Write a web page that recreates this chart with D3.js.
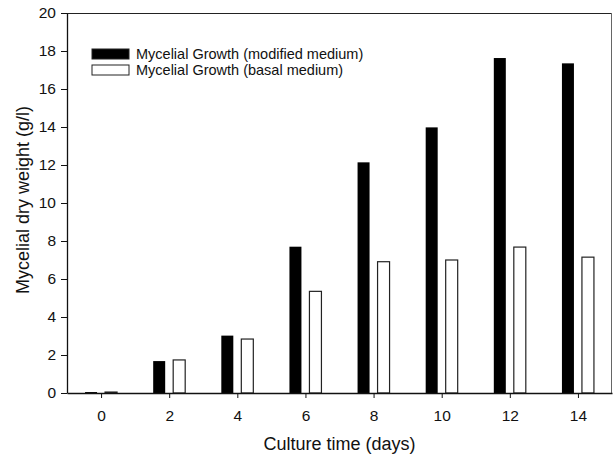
<!DOCTYPE html>
<html>
<head>
<meta charset="utf-8">
<script src="https://cdn.jsdelivr.net/npm/d3@7"></script>
<style>
  body { margin: 0; background: #fff; }
  text { font-family: "Liberation Sans", Arial, sans-serif; fill: #111; }
</style>
</head>
<body>
<div id="chart"></div>
<script>
// dados
var days = [0, 2, 4, 6, 8, 10, 12, 14];
var modified = [0.05, 1.68, 3.02, 7.7, 12.14, 13.98, 17.63, 17.35];
var basal = [0.05, 1.74, 2.84, 5.35, 6.91, 7.0, 7.68, 7.15];
var yTicks = [0, 2, 4, 6, 8, 10, 12, 14, 16, 18, 20];
var legendLabels = ["Mycelial Growth (modified medium)", "Mycelial Growth (basal medium)"];

var width = 613, height = 460;
var mLeft = 67, mRight = 612, mTop = 13, mBottom = 393;

var svg = d3.select('#chart').append('svg')
    .attr('width', width)
    .attr('height', height);

var x = d3.scaleLinear().domain([-1, 15]).range([mLeft, mRight]);
var y = d3.scaleLinear().domain([0, 20]).range([mBottom, mTop]);

var barW = 12, gap = 4;

// barras pretas (modified)
svg.append('g').selectAll('rect')
    .data(days)
    .enter()
    .append('rect')
    .attr('x', (d) => x(d) - gap - barW)
    .attr('y', (d, i) => y(modified[i]))
    .attr('width', barW)
    .attr('height', (d, i) => mBottom - y(modified[i]))
    .attr('fill', '#000');

// barras brancas (basal)
svg.append('g').selectAll('rect')
    .data(days)
    .enter()
    .append('rect')
    .attr('x', (d) => x(d) + gap)
    .attr('y', (d, i) => y(basal[i]))
    .attr('width', barW)
    .attr('height', (d, i) => mBottom - y(basal[i]))
    .attr('fill', '#fff')
    .attr('stroke', '#222')
    .attr('stroke-width', 1.2);

// moldura
svg.append('line').attr('x1', mLeft).attr('x2', mRight).attr('y1', mTop + 0.5).attr('y2', mTop + 0.5)
    .attr('stroke', '#222').attr('stroke-width', 1);
svg.append('line').attr('x1', mRight - 0.5).attr('x2', mRight - 0.5).attr('y1', mTop).attr('y2', mBottom)
    .attr('stroke', '#666').attr('stroke-width', 1);

// eixos
var yAxis = svg.append('g')
    .attr('transform', 'translate(' + mLeft + ',0)')
    .call(d3.axisLeft(y).tickValues(yTicks).tickSize(6).tickPadding(5).tickSizeOuter(0).tickFormat(d3.format('d')));

var xAxis = svg.append('g')
    .attr('transform', 'translate(0,' + mBottom + ')')
    .call(d3.axisBottom(x).tickValues(days).tickSize(5).tickPadding(12).tickSizeOuter(0).tickFormat(d3.format('d')));

[yAxis, xAxis].forEach(function (ax) {
    ax.select('.domain').attr('stroke', '#111').attr('stroke-width', 1.3);
    ax.selectAll('.tick line').attr('stroke', '#111');
    ax.selectAll('.tick text')
        .attr('fill', '#111')
        .style('font-family', '"Liberation Sans", Arial, sans-serif')
        .style('font-size', '15.5px');
});

// títulos
svg.append('text')
    .attr('x', (mLeft + mRight) / 2)
    .attr('y', 450)
    .attr('text-anchor', 'middle')
    .style('font-size', '18px')
    .text('Culture time (days)');

svg.append('text')
    .attr('transform', 'translate(29,200) rotate(-90)')
    .attr('text-anchor', 'middle')
    .style('font-size', '18px')
    .text('Mycelial dry weight (g/l)');

// legenda
var legend = svg.append('g').attr('transform', 'translate(92,49)');
legendLabels.forEach(function (lab, i) {
    legend.append('rect')
        .attr('x', 0).attr('y', i * 16)
        .attr('width', 37).attr('height', 10)
        .attr('fill', i == 0 ? '#000' : '#fff')
        .attr('stroke', '#222').attr('stroke-width', 1);
    legend.append('text')
        .attr('x', 44).attr('y', i * 16 + 10)
        .style('font-size', '14.5px')
        .text(lab);
});
</script>
</body>
</html>
